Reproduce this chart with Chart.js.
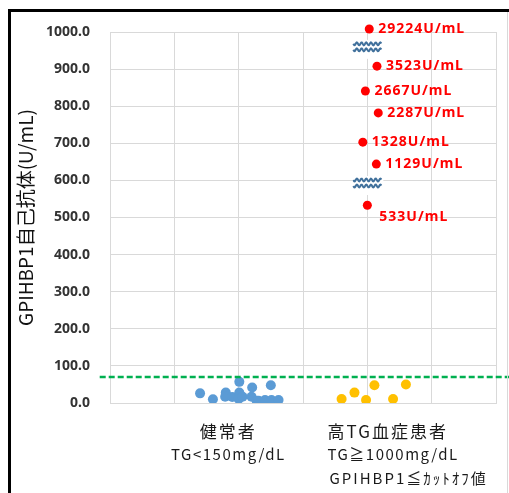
<!DOCTYPE html>
<html><head><meta charset="utf-8">
<script src="https://cdn.jsdelivr.net/npm/chart.js@4.4.1/dist/chart.umd.min.js"></script>
<style>
 html,body{margin:0;padding:0;background:#fff;}
 #wrap{position:relative;width:509px;height:493px;}
 #frame{position:absolute;left:8px;top:9px;right:0;bottom:0;border-left:3px solid #000;border-top:3px solid #000;pointer-events:none;}
 #edge{position:absolute;left:507px;top:12px;width:1px;bottom:0;background:#d9d9d9;}
</style></head><body>
<div id="wrap"><canvas id="myChart" width="509" height="493"></canvas><div id="frame"></div><div id="edge"></div></div>
<script>
// group labels under the axis
var groupNames = [['健常者', 'TG<150mg/dL'], ['高TG血症患者', 'TG≧1000mg/dL', 'GPIHBP1≦ｶｯﾄｵﾌ値']];

// healthy subjects (x = jitter position, y = U/mL)
var healthyX = [1.40, 1.60, 1.80, 1.79, 1.90, 2.01, 2.01, 2.00, 2.06, 2.21, 2.20, 2.28, 2.31, 2.41, 2.51, 2.50, 2.62];
var healthyY = [26, 10, 28, 17, 16, 57, 28, 11, 17, 42, 17, 6, 6, 8, 8, 48, 8];

// high TG patients under cut-off
var lowX = [3.60, 3.80, 3.98, 4.11, 4.40, 4.60];
var lowY = [11, 28, 8, 48, 11, 50];

// high TG patients above cut-off (y = plotted position on the broken axis)
var highX = [4.03, 4.15, 3.97, 4.17, 3.93, 4.14, 4.00];
var highY = [1008, 908, 841, 782, 703, 644, 533];
var highLabels = ['29224U/mL', '3523U/mL', '2667U/mL', '2287U/mL', '1328U/mL', '1129U/mL', '533U/mL'];

var cutoff = 70;
var breakAt = [960, 593];
var yTicks = [0, 100, 200, 300, 400, 500, 600, 700, 800, 900, 1000];

function pts(xs, ys) { return xs.map(function (x, i) { return {x: x, y: ys[i]}; }); }

var notes = {
  id: 'notes',
  beforeDatasetsDraw: function (chart) {
    var ctx = chart.ctx, xs = chart.scales.x, ys = chart.scales.y;
    ctx.save();
    breakAt.forEach(function (v) {
      var cx = xs.getPixelForValue(4.0), cy = ys.getPixelForValue(v);
      ctx.fillStyle = '#fff';
      ctx.fillRect(cx - 15, cy - 7, 31, 19);
      ctx.strokeStyle = '#41719c';
      ctx.lineWidth = 2;
      [-3, 3].forEach(function (o) {
        ctx.beginPath();
        for (var i = 0; i <= 28; i += 0.5) {
          var px = cx - 14 + i, py = cy + o + 1.4 * Math.sin(i / 4.7 * 2 * Math.PI);
          if (i === 0) ctx.moveTo(px, py); else ctx.lineTo(px, py);
        }
        ctx.stroke();
      });
    });
    ctx.restore();
  },
  afterDatasetsDraw: function (chart) {
    var ctx = chart.ctx, xs = chart.scales.x;
    ctx.save();
    // red value labels
    ctx.fillStyle = '#ff0000';
    ctx.font = 'bold 14px "Noto Sans"';
    ctx.letterSpacing = '1px';
    ctx.textBaseline = 'middle';
    ctx.textAlign = 'left';
    var meta = chart.getDatasetMeta(3);
    meta.data.forEach(function (p, i) {
      var last = i === highLabels.length - 1;
      ctx.fillText(highLabels[i], p.x + (last ? 12 : 9), p.y + (last ? 12 : 0));
    });
    // group labels
    ctx.fillStyle = '#1a1a1a';
    ctx.textBaseline = 'middle';
    var rowsY = [432, 454, 478];
    var anchors = [{x: 1.84, align: 'center'}, {x: 3.38, align: 'left'}];
    groupNames.forEach(function (lines, g) {
      ctx.textAlign = anchors[g].align;
      lines.forEach(function (t, k) {
        ctx.font = (k === 0 ? '17px' : '15px') + ' "Noto Sans CJK JP"';
        ctx.letterSpacing = k === 0 ? '2px' : (k === 2 ? '2px' : '1.5px');
        var dx = (g === 1 && k === 2) ? 2 : 0;
        ctx.fillText(t, xs.getPixelForValue(anchors[g].x) + dx, rowsY[k]);
      });
    });
    ctx.restore();
  }
};

var ctx = document.getElementById('myChart');
var myChart = new Chart(ctx, {
  type: 'scatter',
  data: {
    datasets: [{
      type: 'line',
      data: [{x: -0.16, y: cutoff}, {x: 6.25, y: cutoff}],
      borderColor: '#00b050',
      borderWidth: 2.5,
      borderDash: [6, 3],
      pointRadius: 0,
      clip: false
    }, {
      data: pts(healthyX, healthyY),
      backgroundColor: '#5b9bd5',
      borderWidth: 0,
      pointRadius: 5
    }, {
      data: pts(lowX, lowY),
      backgroundColor: '#ffc000',
      borderWidth: 0,
      pointRadius: 5
    }, {
      data: pts(highX, highY),
      backgroundColor: '#ff0000',
      borderWidth: 0,
      pointRadius: 4.5,
      clip: false
    }]
  },
  plugins: [notes],
  options: {
    responsive: false,
    animation: false,
    layout: {padding: {left: 0, right: 13, top: 32, bottom: 0}},
    plugins: {legend: {display: false}, tooltip: {enabled: false}},
    scales: {
      x: {
        type: 'linear', min: 0, max: 6,
        ticks: {display: false, stepSize: 1},
        grid: {color: '#d9d9d9', drawTicks: false},
        border: {color: '#d9d9d9'},
        afterFit: function (s) { s.height = 90; }
      },
      y: {
        min: 0, max: 1000,
        afterBuildTicks: function (s) { s.ticks = yTicks.map(function (v) { return {value: v}; }); },
        ticks: {
          padding: 20,
          color: '#333',
          font: {family: '"Noto Sans"', size: 14, weight: 'bold'},
          callback: function (v) { return v.toFixed(1); }
        },
        grid: {color: '#d9d9d9', drawTicks: false},
        border: {color: '#d9d9d9'},
        title: {
          display: true,
          text: 'GPIHBP1自己抗体(U/mL)',
          color: '#111',
          font: {family: '"Noto Sans CJK JP"', size: 19},
          padding: {top: 14, bottom: 0}
        },
        afterFit: function (s) { s.width = 110; }
      }
    }
  }
});
</script>
</body></html>
